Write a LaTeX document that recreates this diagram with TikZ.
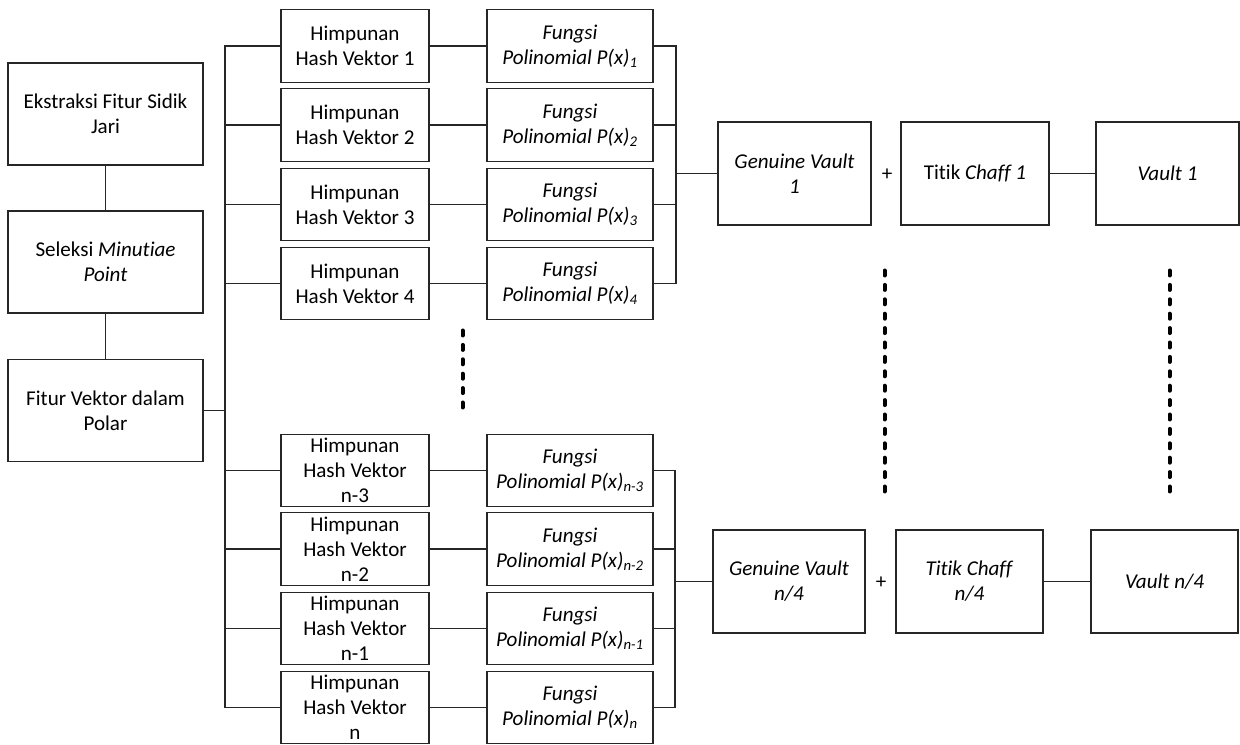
\documentclass[tikz,border=0pt]{standalone}
\usepackage{fontspec}
\setmainfont{Carlito}[Ligatures=NoCommon]
\newcommand{\pxu}{0.75pt}
\begin{document}
\begin{tikzpicture}[x=0.75pt,y=-0.75pt,
  every node/.style={font=\fontsize{15.8}{18.9}\selectfont},
  conn/.style={draw=black!85, line width=1pt},
  basebox/.style={draw=black!85, line width=1pt, rectangle, inner sep=0pt, align=center},
  leftbox/.style={basebox, minimum width=195*\pxu, minimum height=102*\pxu},
  hbox/.style={basebox, minimum width=148*\pxu, minimum height=72.5*\pxu},
  fnbox/.style={basebox, minimum width=166*\pxu, minimum height=72.5*\pxu, font=\fontsize{15.8}{18.9}\selectfont\itshape},
  bigbox/.style={basebox, minimum height=103*\pxu},
  dotmark/.style={draw=black, line width=4*\pxu, line cap=round},
  plusmark/.style={inner sep=0pt}
]
\useasboundingbox (0,0) rectangle (1240,745);

% left column
\node[leftbox] (e1) at (105.5,114) {Ekstraksi Fitur Sidik\\Jari};
\node[leftbox] (e2) at (105.5,262) {Seleksi \textit{Minutiae}\\\textit{Point}};
\node[leftbox] (e3) at (105.5,410.5) {Fitur Vektor dalam\\Polar};

% hash sets
\node[hbox] (h1) at (355,46) {Himpunan\\Hash Vektor 1};
\node[hbox] (h2) at (355,125) {Himpunan\\Hash Vektor 2};
\node[hbox] (h3) at (355,204.5) {Himpunan\\Hash Vektor 3};
\node[hbox] (h4) at (355,283.5) {Himpunan\\Hash Vektor 4};
\node[hbox] (h5) at (355,470.5) {Himpunan\\Hash Vektor\\n-3};
\node[hbox] (h6) at (355,549) {Himpunan\\Hash Vektor\\n-2};
\node[hbox] (h7) at (355,628.5) {Himpunan\\Hash Vektor\\n-1};
\node[hbox] (h8) at (355,707.5) {Himpunan\\Hash Vektor\\n};

% polynomial functions
\node[fnbox] (f1) at (570,46) {Fungsi\\Polinomial P(x)\textsubscript{1}};
\node[fnbox] (f2) at (570,125) {Fungsi\\Polinomial P(x)\textsubscript{2}};
\node[fnbox] (f3) at (570,204.5) {Fungsi\\Polinomial P(x)\textsubscript{3}};
\node[fnbox] (f4) at (570,283.5) {Fungsi\\Polinomial P(x)\textsubscript{4}};
\node[fnbox] (f5) at (570,470.5) {Fungsi\\Polinomial P(x)\textsubscript{n-3}};
\node[fnbox] (f6) at (570,549) {Fungsi\\Polinomial P(x)\textsubscript{n-2}};
\node[fnbox] (f7) at (570,628.5) {Fungsi\\Polinomial P(x)\textsubscript{n-1}};
\node[fnbox] (f8) at (570,707.5) {Fungsi\\Polinomial P(x)\textsubscript{n}};

% vault rows
\node[bigbox, minimum width=153*\pxu] (g1) at (794.5,173.5) {\textit{Genuine Vault}\\\textit{1}};
\node[plusmark] (plus1) at (887,175) {+};
\node[bigbox, minimum width=148*\pxu] (t1) at (975,173.5) {Titik \textit{Chaff 1}};
\node[bigbox, minimum width=143*\pxu] (v1) at (1167.5,173.5) {\textit{Vault 1}};

\node[bigbox, minimum width=152*\pxu] (gn) at (789,581.5) {\textit{Genuine Vault}\\\textit{n/4}};
\node[plusmark] (plus2) at (881,583) {+};
\node[bigbox, minimum width=147*\pxu] (tn) at (969.5,581.5) {\textit{Titik Chaff}\\\textit{n/4}};
\node[bigbox, minimum width=147*\pxu] (vn) at (1164.5,581.5) {\textit{Vault n/4}};

% left connectors
\draw[conn] (e1.south) -- (e2.north);
\draw[conn] (e2.south) -- (e3.north);
\coordinate (lb) at (225,410.5);
\draw[conn] (e3.east) -- (lb);
\draw[conn] (h1.west) -| (lb) |- (h8.west);
\foreach \n in {2,...,7}{
  \draw[conn] (h\n.west) -- (h\n.west -| lb);
}
% hash -> function
\foreach \n in {1,...,8}{
  \draw[conn] (h\n.east) -- (f\n.west);
}
% right buses
\coordinate (rb1) at (676,173.5);
\draw[conn] (f1.east) -| (rb1);
\draw[conn] (f4.east) -| (rb1);
\draw[conn] (f2.east) -- (f2.east -| rb1);
\draw[conn] (f3.east) -- (f3.east -| rb1);
\draw[conn] (rb1) -- (g1.west);

\coordinate (rb2) at (675,581.5);
\draw[conn] (f5.east) -| (rb2);
\draw[conn] (f8.east) -| (rb2);
\draw[conn] (f6.east) -- (f6.east -| rb2);
\draw[conn] (f7.east) -- (f7.east -| rb2);
\draw[conn] (rb2) -- (gn.west);

\draw[conn] (t1.east) -- (v1.west);
\draw[conn] (tn.east) -- (vn.west);

% ellipsis dots
\foreach \i in {0,...,5}{
  \draw[dotmark] (462.5,{333+14.4*\i-2.5}) -- ++(0,5);
}
\foreach \i in {0,...,15}{
  \draw[dotmark] (884.5,{273+14.4*\i-2.5}) -- ++(0,5);
  \draw[dotmark] (1169.5,{273+14.4*\i-2.5}) -- ++(0,5);
}
\end{tikzpicture}
\end{document}
